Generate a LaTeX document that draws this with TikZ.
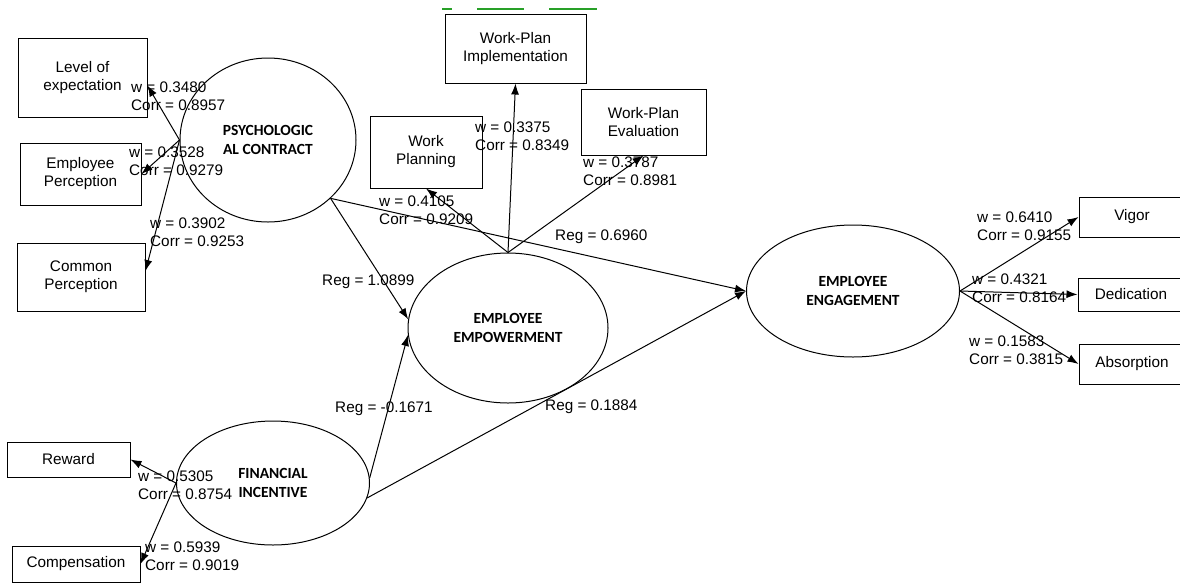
\documentclass[tikz,border=0pt]{standalone}
\usepackage{fontspec}
\setmainfont{Liberation Sans}
\newfontfamily\calibri{Carlito}
\usetikzlibrary{shapes.geometric, arrows.meta}

\definecolor{spellgreen}{RGB}{40,160,40}

\tikzset{
  ind/.style = {draw, line width=1pt, align=center, inner sep=0pt, font=\fontsize{15.3}{18}\selectfont},
  lat/.style = {draw, ellipse, line width=1pt, align=center, inner sep=0pt, font=\calibri\bfseries\fontsize{15.5}{19}\selectfont},
  wt/.style = {anchor=north west, align=left, inner sep=0pt, font=\fontsize{15.3}{18}\selectfont},
  reg/.style = {anchor=base west, inner sep=0pt, font=\fontsize{15.3}{18}\selectfont},
  >={Latex[length=11pt,width=8pt]},
}

\begin{document}
\begin{tikzpicture}[x=1pt, y=-1pt]
			\useasboundingbox (0,0) rectangle (1180,582);

			% latent variables
			\node [lat, minimum width=176, minimum height=164] (psy) at (268,140) {PSYCHOLOGIC\\AL CONTRACT};
			\node [lat, minimum width=200, minimum height=150] (emp) at (508,328) {EMPLOYEE\\EMPOWERMENT};
			\node [lat, minimum width=193, minimum height=124] (fin) at (273,483) {FINANCIAL\\INCENTIVE};
			\node [lat, minimum width=213, minimum height=132] (eng) at (853,291) {EMPLOYEE\\ENGAGEMENT};

			% indicators
			\node [ind, minimum width=129, minimum height=79] (lev) at (82.5,77.5) {Level of\\expectation};
			\node [ind, minimum width=121, minimum height=62] (ep) at (80.5,174) {Employee\\Perception};
			\node [ind, minimum width=128, minimum height=68] (com) at (81,277) {Common\\Perception};
			\node [ind, minimum width=141, minimum height=69] (impl) at (515.5,48.5) {Work-Plan\\Implementation};
			\node [ind, minimum width=112, minimum height=72] (wp) at (426,152) {Work\\Planning};
			\node [ind, minimum width=125, minimum height=66] (eval) at (643.5,122) {Work-Plan\\Evaluation};
			\node [ind, minimum width=106, minimum height=40] (vig) at (1132,217) {Vigor};
			\node [ind, minimum width=106, minimum height=33] (ded) at (1131,294.5) {Dedication};
			\node [ind, minimum width=106, minimum height=40] (abs) at (1132,364) {Absorption};
			\node [ind, minimum width=123, minimum height=35] (rew) at (68.5,459.5) {Reward};
			\node [ind, minimum width=128, minimum height=36] (comp) at (76,564) {Compensation};

			\begin{scope}[->, line width=1pt]
				\draw (psy.west) -- ([yshift=-8pt]lev.east);
				\draw (psy.west) -- (ep.east);
				\draw (psy.west) -- ([yshift=6pt]com.east);
				\draw (emp.north) -- (wp.south);
				\draw (emp.north) -- (impl.south);
				\draw (emp.north) -- (eval.south);
				\draw (eng.east) -- (vig.west);
				\draw (eng.east) -- (ded.west);
				\draw (eng.east) -- (abs.west);
				\draw (fin.west) -- (rew.east);
				\draw (fin.west) -- (comp.east);

				\draw (psy.-43) -- (emp.175);
				\draw (psy.-43) -- (eng.west);
				\draw (fin.3) -- (emp.184);
				\draw (fin.-9) -- (eng.west);
			\end{scope}

			% weights
			\node [wt] at (131,82) {w = 0.3480\\Corr = 0.8957};
			\node [wt] at (129,147) {w = 0.3528\\Corr = 0.9279};
			\node [wt] at (150,218) {w = 0.3902\\Corr = 0.9253};
			\node [wt] at (379,196) {w = 0.4105\\Corr = 0.9209};
			\node [wt] at (475,122) {w = 0.3375\\Corr = 0.8349};
			\node [wt] at (583,157) {w = 0.3787\\Corr = 0.8981};
			\node [wt] at (977,212) {w = 0.6410\\Corr = 0.9155};
			\node [wt] at (972,274) {w = 0.4321\\Corr = 0.8164};
			\node [wt] at (969,336) {w = 0.1583\\Corr = 0.3815};
			\node [wt] at (138,471) {w = 0.5305\\Corr = 0.8754};
			\node [wt] at (145,542) {w = 0.5939\\Corr = 0.9019};

			% paths
			\node [reg] at (322,285) {Reg = 1.0899};
			\node [reg] at (555,240) {Reg = 0.6960};
			\node [reg] at (335,412) {Reg = -0.1671};
			\node [reg] at (545,410) {Reg = 0.1884};

			\begin{scope}[spellgreen, line width=1.2pt]
				\draw (442,9) -- (452,9);
				\draw (477,9) -- (524,9);
				\draw (549,9) -- (597,9);
			\end{scope}
		\end{tikzpicture}
\end{document}
